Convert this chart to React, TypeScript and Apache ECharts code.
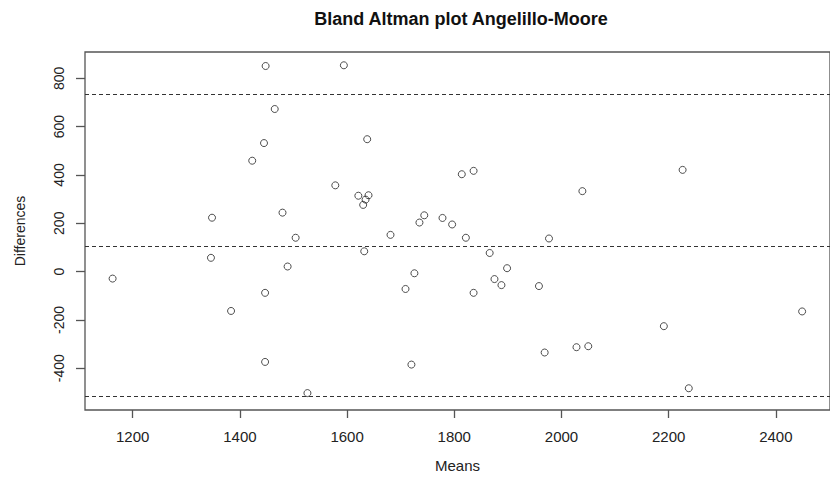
import React, { useEffect, useRef } from "react";
import * as echarts from "echarts";

const means = [
  1162.5, 1346, 1348, 1383.5, 1423, 1445, 1447, 1447, 1448, 1465, 1479.5, 1489,
  1504, 1526, 1578, 1594, 1621, 1630, 1632, 1634.5, 1637.5, 1640, 1681, 1709,
  1720, 1725.6, 1735, 1744, 1778, 1796, 1814, 1821.6, 1836, 1836, 1866, 1875,
  1888, 1898.5, 1958, 1968.6, 1976.7, 2028, 2039, 2050, 2191, 2226, 2237.5, 2449,
];
const differences = [
  -29, 57, 223, -163, 459, 532, -88, -374, 851, 673, 244, 21,
  140, -503, 357, 854, 314, 276, 84, 298, 548, 316, 152, -72,
  -385, -7, 203, 233, 222, 195, 403, 140, 417, -88, 77, -31,
  -56, 14, -60, -335, 137, -313, 333, -309, -226, 421, -483, -165,
];
const meanDiff = 106;
const upperLimit = 735;
const lowerLimit = -517;
const xTicks = [1200, 1400, 1600, 1800, 2000, 2200, 2400];
const yTicks = [-400, -200, 0, 200, 400, 600, 800];
const titleText = "Bland Altman plot Angelillo-Moore";
const xName = "Means";
const yName = "Differences";

const FONT = "'Liberation Sans', Arial, sans-serif";

export default function App() {
  const ref = useRef<HTMLDivElement>(null);
  useEffect(() => {
    if (!ref.current) return;
    const chart = echarts.init(ref.current, null, { renderer: "svg" });
    const points = means.map((m, i) => [m, differences[i]]);
    chart.setOption({
      animation: false,
      backgroundColor: "#ffffff",
      textStyle: { fontFamily: FONT },
      grid: {
        left: 85,
        right: -8,
        top: 52,
        bottom: 70,
        show: true,
        borderColor: "#555",
        borderWidth: 1.3,
        backgroundColor: "transparent",
      },
      graphic: [
        {
          type: "text",
          x: 461,
          y: 19,
          style: {
            text: titleText,
            font: `bold 18px ${FONT}`,
            fill: "#111",
            textAlign: "center",
            textVerticalAlign: "middle",
          },
        },
      ],
      xAxis: {
        type: "value",
        position: "bottom",
        min: 1111,
        max: 2501,
        name: xName,
        nameLocation: "middle",
        nameGap: 48,
        nameTextStyle: { fontSize: 15, color: "#222", fontFamily: FONT },
        axisLine: { show: false, onZero: false },
        splitLine: { show: false },
        axisTick: {
          show: true,
          length: 8,
          customValues: xTicks,
          lineStyle: { color: "#555", width: 1.3 },
        },
        axisLabel: {
          customValues: xTicks,
          formatter: (v: number) => String(v),
          fontSize: 15,
          color: "#222",
          margin: 19,
          fontFamily: FONT,
        },
      },
      yAxis: {
        type: "value",
        position: "left",
        min: -573,
        max: 909,
        name: yName,
        nameLocation: "middle",
        nameRotate: 90,
        nameGap: 58,
        nameTextStyle: { fontSize: 14, color: "#222", fontFamily: FONT },
        axisLine: { show: false, onZero: false },
        splitLine: { show: false },
        axisTick: {
          show: true,
          length: 9,
          customValues: yTicks,
          lineStyle: { color: "#555", width: 1.3 },
        },
        axisLabel: {
          customValues: yTicks,
          formatter: (v: number) => String(v),
          rotate: 90,
          fontSize: 14,
          color: "#222",
          margin: 19,
          fontFamily: FONT,
        },
      },
      series: [
        {
          type: "scatter",
          data: points,
          symbol: "circle",
          symbolSize: 7,
          itemStyle: {
            color: "transparent",
            borderColor: "#222",
            borderWidth: 1,
          },
          markLine: {
            silent: true,
            symbol: "none",
            label: { show: false },
            lineStyle: { color: "#333", type: [4, 3], width: 1.2 },
            data: [
              { yAxis: upperLimit },
              { yAxis: meanDiff },
              { yAxis: lowerLimit },
            ],
          },
        },
      ],
    });
    return () => chart.dispose();
  }, []);
  return (
    <div
      ref={ref}
      style={{ position: "absolute", left: 0, top: 0, width: 830, height: 480 }}
    />
  );
}
